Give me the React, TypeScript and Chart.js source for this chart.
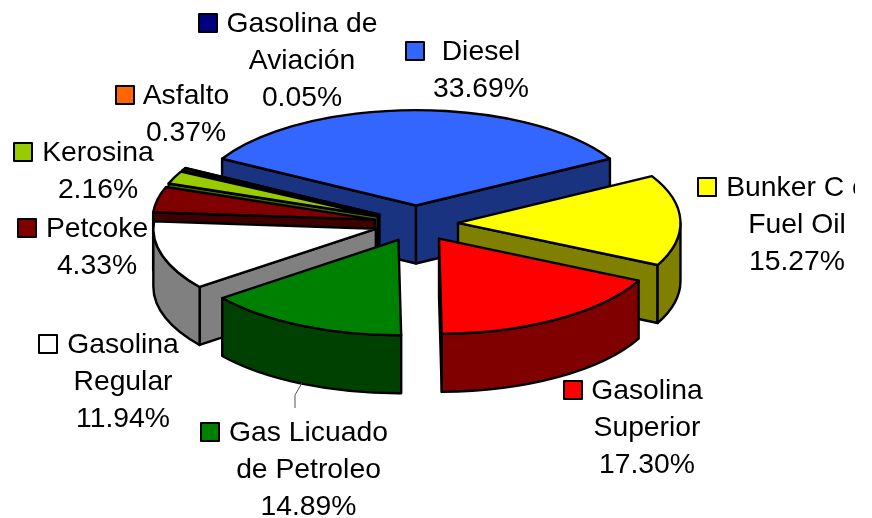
import React, { useEffect, useRef } from "react";
import { Chart, registerables } from "chart.js";

Chart.register(...registerables);

const categories = ["Diesel", "Bunker C o Fuel Oil", "Gasolina Superior", "Gas Licuado de Petroleo", "Gasolina Regular", "Petcoke", "Kerosina", "Asfalto", "Gasolina de Aviación"];
const shares = [33.69, 15.27, 17.3, 14.89, 11.94, 4.33, 2.16, 0.37, 0.05];
const topColors = ["#3366FF", "#FFFF00", "#FF0000", "#008000", "#FFFFFF", "#800000", "#99CC00", "#FF6600", "#000080"];
const wallColors = ["#1A3380", "#808000", "#800000", "#004000", "#808080", "#400000", "#4D6600", "#803300", "#000040"];
const labelLines = [
  ["Diesel", "33.69%"],
  ["Bunker C o", "Fuel Oil", "15.27%"],
  ["Gasolina", "Superior", "17.30%"],
  ["Gas Licuado", "de Petroleo", "14.89%"],
  ["Gasolina", "Regular", "11.94%"],
  ["Petcoke", "4.33%"],
  ["Kerosina", "2.16%"],
  ["Asfalto", "0.37%"],
  ["Gasolina de", "Aviación", "0.05%"],
];
// label layout: centre x of the text, centre y of first line, left edge of the key
const labelX = [481, 797, 647, 308.5, 123, 97, 98, 186, 302];
const labelY = [51, 187, 390, 432, 344, 228, 152, 95, 23];
const keyX = [406, 698, 564, 201, 39, 18, 14, 116, 199];

const TILT = 96 / 224;
const EXPLODE = 42;
const DEPTH = 58;
const LINE_PITCH = 37;
const TEXT_CLIP_RIGHT = 855;
// the reference's perspective pulls the front of the pie slightly clockwise
const FRONT_WARP = (1.4 * Math.PI) / 180;
const warp = (angle: number) => angle + FRONT_WARP * Math.max(0, Math.sin(angle));

const pie3d = {
  id: "pie3d",
  beforeDatasetsDraw() {
    return false;
  },
  afterDraw(chart: any) {
    const ctx: CanvasRenderingContext2D = chart.ctx;
    const arcs: any[] = chart.getDatasetMeta(0).data;
    const slices = arcs.map((arc: any, i: number) => {
      const mid = (arc.startAngle + arc.endAngle) / 2;
      return {
        i,
        a: warp(arc.startAngle),
        b: warp(arc.endAngle),
        rx: arc.outerRadius,
        ry: arc.outerRadius * TILT,
        cx: arc.x + Math.cos(mid) * EXPLODE,
        cy: arc.y + Math.sin(mid) * EXPLODE * TILT,
        order: Math.sin(mid),
      };
    });
    slices.sort((p, q) => p.order - q.order);

    ctx.save();
    ctx.lineWidth = 2.4;
    ctx.lineJoin = "round";
    ctx.strokeStyle = "#000";

    const paint = (fill: string) => {
      ctx.fillStyle = fill;
      ctx.fill();
      ctx.stroke();
    };

    const radialWall = (s: any, angle: number) => {
      const ex = s.cx + Math.cos(angle) * s.rx;
      const ey = s.cy + Math.sin(angle) * s.ry;
      ctx.beginPath();
      ctx.moveTo(s.cx, s.cy);
      ctx.lineTo(ex, ey);
      ctx.lineTo(ex, ey + DEPTH);
      ctx.lineTo(s.cx, s.cy + DEPTH);
      ctx.closePath();
      paint(wallColors[s.i]);
    };

    for (const s of slices) {
      if (Math.cos(s.a) < 0) radialWall(s, s.a);
      if (Math.cos(s.b) > 0) radialWall(s, s.b);
      const from = Math.max(s.a, 0);
      const to = Math.min(s.b, Math.PI);
      if (to > from) {
        ctx.beginPath();
        ctx.ellipse(s.cx, s.cy, s.rx, s.ry, 0, from, to);
        ctx.ellipse(s.cx, s.cy + DEPTH, s.rx, s.ry, 0, to, from, true);
        ctx.closePath();
        paint(wallColors[s.i]);
      }
      ctx.beginPath();
      ctx.moveTo(s.cx, s.cy);
      ctx.ellipse(s.cx, s.cy, s.rx, s.ry, 0, s.a, s.b);
      ctx.closePath();
      paint(topColors[s.i]);
    }

    // leader line of the Gas Licuado label
    ctx.beginPath();
    ctx.moveTo(302, 383);
    ctx.lineTo(295, 395);
    ctx.lineTo(295, 408);
    ctx.lineWidth = 1;
    ctx.strokeStyle = "#555";
    ctx.stroke();

    // data labels with legend keys
    ctx.beginPath();
    ctx.rect(0, 0, TEXT_CLIP_RIGHT, chart.height);
    ctx.clip();
    ctx.font = '28.3px "Liberation Sans", Arial, sans-serif';
    ctx.textAlign = "center";
    ctx.textBaseline = "middle";
    labelLines.forEach((lines, i) => {
      lines.forEach((line, n) => {
        ctx.fillStyle = "#000";
        ctx.fillText(line, labelX[i], labelY[i] + 1 + n * LINE_PITCH);
      });
      ctx.fillStyle = topColors[i];
      ctx.strokeStyle = "#000";
      ctx.lineWidth = 2;
      ctx.fillRect(keyX[i], labelY[i] - 9, 18, 18);
      ctx.strokeRect(keyX[i], labelY[i] - 9, 18, 18);
    });
    ctx.restore();
  },
};

export default function App() {
  const ref = useRef<HTMLCanvasElement>(null);
  useEffect(() => {
    const chart = new Chart(ref.current as HTMLCanvasElement, {
      type: "pie",
      data: {
        labels: categories,
        datasets: [{ data: shares, backgroundColor: topColors, borderColor: "#000", borderWidth: 2 }],
      },
      options: {
        animation: false,
        responsive: false,
        rotation: -60.64,
        layout: { padding: { left: 192, right: 232, top: -1, bottom: 71 } },
        plugins: { legend: { display: false }, tooltip: { enabled: false } },
      },
      plugins: [pie3d],
    } as any);
    return () => chart.destroy();
  }, []);
  return (
    <canvas
      ref={ref}
      width={872}
      height={518}
      style={{ position: "fixed", left: 0, top: 0, width: 872, height: 518, display: "block" }}
    />
  );
}
